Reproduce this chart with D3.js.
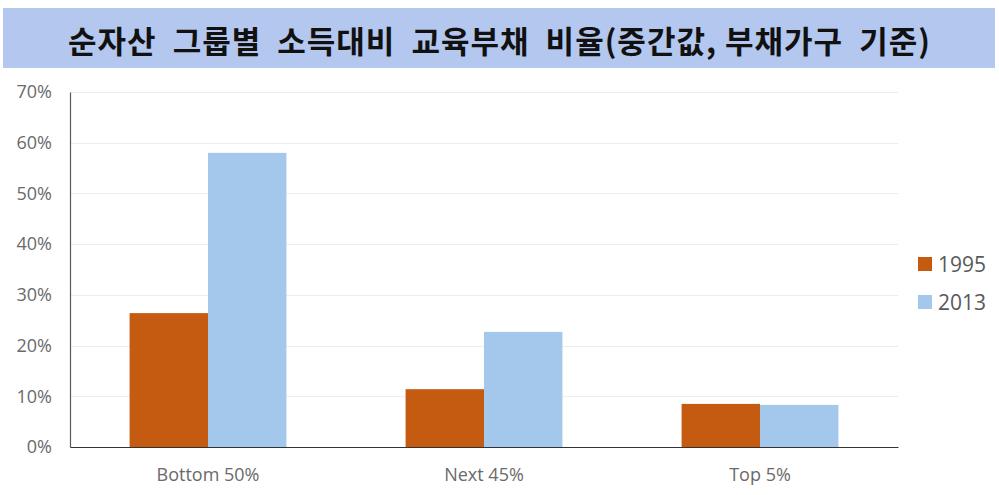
<!DOCTYPE html>
<html>
<head>
<meta charset="utf-8">
<script src="https://cdn.jsdelivr.net/npm/d3@7/dist/d3.min.js"></script>
<style>
  html, body { margin: 0; padding: 0; background: #fff; }
  svg { display: block; }
</style>
</head>
<body>
<svg id="chart" width="999" height="495"></svg>
<script>
// Education debt to income ratio (median, indebted households) by net-worth group
const categories = ["Bottom 50%", "Next 45%", "Top 5%"];
const seriesNames = ["1995", "2013"];
const values1995 = [0.264, 0.114, 0.085];
const values2013 = [0.580, 0.227, 0.083];
const yTicks = [0, 0.1, 0.2, 0.3, 0.4, 0.5, 0.6, 0.7];
const titleText = "순자산  그룹별  소득대비  교육부채  비율(중간값, 부채가구  기준)";

const colors = { "1995": "#c55a11", "2013": "#a3c8ec" };

const svg = d3.select("#chart");
const W = 999, H = 495;
const margin = { left: 70, right: 101, top: 92, bottom: 48 };
const plotW = W - margin.left - margin.right;
const plotH = H - margin.top - margin.bottom;

// Title band
svg.append("rect")
  .attr("x", 3).attr("y", 8).attr("width", 992).attr("height", 60)
  .attr("fill", "#b4c7ef");
svg.append("text")
  .attr("x", W / 2).attr("y", 39)
  .attr("text-anchor", "middle").attr("dominant-baseline", "central")
  .attr("font-family", "'Noto Sans CJK KR', sans-serif")
  .attr("font-weight", 700).attr("font-size", 31)
  .attr("letter-spacing", 1)
  .attr("fill", "#111")
  .style("white-space", "pre")
  .text(titleText);

const g = svg.append("g").attr("transform", `translate(${margin.left},${margin.top})`);

const x = d3.scaleBand().domain(categories).range([0, plotW]).paddingInner(0).paddingOuter(0);
const xInner = d3.scaleBand().domain(seriesNames).range([0, x.bandwidth()]).paddingInner(0).paddingOuter(0.76);
const y = d3.scaleLinear().domain([0, 0.7]).range([plotH, 0]);

// Gridlines
g.append("g").selectAll("line").data(yTicks.filter(t => t > 0)).join("line")
  .attr("x1", 0).attr("x2", plotW)
  .attr("y1", d => Math.round(y(d)) + 0.5).attr("y2", d => Math.round(y(d)) + 0.5)
  .attr("stroke", "#ececec").attr("stroke-width", 1);

// Bars
const rows = categories.map((c, i) => ({ cat: c, vals: [
  { s: "1995", v: values1995[i] }, { s: "2013", v: values2013[i] }
] }));
g.append("g").selectAll("g").data(rows).join("g")
  .attr("transform", d => `translate(${x(d.cat)},0)`)
  .selectAll("rect").data(d => d.vals).join("rect")
  .attr("x", d => xInner(d.s))
  .attr("width", xInner.bandwidth())
  .attr("y", d => y(d.v))
  .attr("height", d => plotH - y(d.v))
  .attr("fill", d => colors[d.s]);

// Y axis
const yAxis = g.append("g")
  .call(d3.axisLeft(y).tickValues(yTicks).tickFormat(d3.format(".0%")).tickSize(0).tickPadding(18));
yAxis.select(".domain").attr("stroke", "#595959").attr("stroke-width", 1.2);
yAxis.selectAll("text")
  .attr("font-family", "'Open Sans', 'DejaVu Sans', sans-serif")
  .attr("font-size", 18).attr("fill", "#6a6a6a");

// X axis
const xAxis = g.append("g").attr("transform", `translate(0,${plotH})`)
  .call(d3.axisBottom(x).tickSize(0).tickPadding(21));
xAxis.select(".domain").attr("stroke", "#333").attr("stroke-width", 1.2);
xAxis.selectAll("text")
  .attr("font-family", "'Open Sans', 'DejaVu Sans', sans-serif")
  .attr("font-size", 18).attr("fill", "#6a6a6a");

// Legend
const legend = svg.append("g").attr("transform", "translate(918,257)");
seriesNames.forEach((s, i) => {
  const row = legend.append("g").attr("transform", `translate(0,${i * 38})`);
  row.append("rect").attr("width", 14).attr("height", 14).attr("fill", colors[s]);
  row.append("text").attr("x", 20).attr("y", 7).attr("dominant-baseline", "central")
    .attr("font-family", "'Open Sans', 'DejaVu Sans', sans-serif")
    .attr("font-size", 21).attr("fill", "#595959").text(s);
});
</script>
</body>
</html>
